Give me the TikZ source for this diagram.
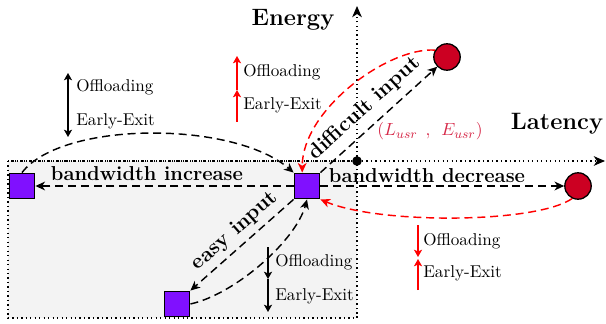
\documentclass[tikz,border=0pt]{standalone}
\usetikzlibrary{arrows.meta}
\definecolor{sqpurple}{RGB}{128,16,255}
\definecolor{circred}{RGB}{204,0,34}
\definecolor{lblred}{RGB}{214,40,72}
\definecolor{boxgray}{RGB}{243,243,243}
\begin{document}
\begin{tikzpicture}[x=0.625pt,y=-0.625pt,
  sq/.style={draw=black,line width=0.8pt,fill=sqpurple,minimum size=16pt,inner sep=0pt},
  pnt/.style={circle,draw=black,line width=0.8pt,fill=circred,minimum size=16.5pt,inner sep=0pt},
  conn/.style={dash pattern=on 5pt off 3pt,line width=0.9pt,-{Stealth[length=6pt,width=5.5pt,inset=1.8pt]}},
  rconn/.style={conn,red},
  axis/.style={dotted,line width=0.8pt,-{Stealth[length=7pt,width=6pt,inset=2pt]}},
  bw/.style={font=\bfseries\fontsize{12.6}{15}\selectfont},
  inp/.style={font=\bfseries\fontsize{13.2}{15}\selectfont},
  big/.style={font=\bfseries\fontsize{14.8}{17}\selectfont},
  lab/.style={font=\fontsize{10.7}{13}\selectfont,anchor=west,inner sep=0pt},
  varr/.style={line width=1.3pt,-{Stealth[length=4.5pt,width=5pt,inset=1pt]}}
]
\useasboundingbox (0,0) rectangle (606,324);

% gray region
\draw[dotted,line width=0.8pt,fill=boxgray] (8,161) rectangle (357,318);

% axes
\coordinate (xs) at (8,161);
\coordinate (xe) at (605,161);
\coordinate (ys) at (357,318);
\coordinate (ye) at (357,6);
\draw[axis] (xs) -- (xe);
\draw[axis] (ys) -- (ye);
\node[circle,fill=black,minimum size=6pt,inner sep=0pt] (O) at (357,161) {};

\node[big] (energy) at (293,20) {Energy};
\node[big] (latency) at (557,124) {Latency};
\node[font=\fontsize{11}{13}\selectfont,text=lblred] (usr) at (430,131) {$(L_{usr}\hspace{5pt},\hspace{5pt}E_{usr})$};

% nodes
\node[sq] (C) at (307,186) {};
\node[sq] (L) at (22,186) {};
\node[sq] (B) at (177,304) {};
\node[pnt] (T) at (447,57) {};
\node[pnt] (R) at (578,186) {};

% connectors
\draw[conn] (C.west) -- (L.east);
\node[bw] (bwi) at (147,174) {bandwidth increase};
\draw[conn] (C.east) -- (R.west);
\node[bw] (bwd) at (427,176) {bandwidth decrease};

\draw[conn] (L.north) .. controls +(40,-52) and +(-60,-52) .. (C.north west);
\draw[conn] (C.north east) -- node[sloped,above=1.5pt,pos=0.48,inp] {difficult input} (T.-135);
\draw[rconn] (T.150) .. controls +(-47,-3) and +(0,-63) .. ([xshift=-3pt]C.north);
\draw[rconn] (R.-115) .. controls +(-36,25) and +(59,25) .. (C.south east);
\draw[conn] (C.south west) -- node[sloped,above,pos=0.47,inp] {easy input} (B.north east);
\draw[conn] (B.east) .. controls +(45,-10) and +(-11,41) .. (C.south);

% black up/down (top left)
\coordinate (a1) at (68,105);
\coordinate (a2) at (68,73);
\coordinate (a3) at (68,137);
\draw[varr] (a1) -- (a2);
\draw[varr] (a1) -- (a3);
\node[lab] (o1) at (76,87) {Offloading};
\node[lab] (e1) at (76,121) {Early-Exit};

% red up/up
\coordinate (b1) at (237,122);
\coordinate (b2) at (237,90);
\coordinate (b3) at (237,56);
\draw[varr,red] (b1) -- (b2);
\draw[varr,red] (b2) -- (b3);
\node[lab] (o2) at (243,72) {Offloading};
\node[lab] (e2) at (243,105) {Early-Exit};

% black down/down
\coordinate (c1) at (268,247);
\coordinate (c2) at (268,279);
\coordinate (c3) at (268,312);
\draw[varr] (c1) -- (c2);
\draw[varr] (c2) -- (c3);
\node[lab] (o3) at (275,262) {Offloading};
\node[lab] (e3) at (275,296) {Early-Exit};

% red down/up
\coordinate (d1) at (418,225);
\coordinate (d2) at (418,257);
\coordinate (d3) at (418,290);
\coordinate (d4) at (418,259);
\draw[varr,red] (d1) -- (d2);
\draw[varr,red] (d3) -- (d4);
\node[lab] (o4) at (423,241) {Offloading};
\node[lab] (e4) at (423,273) {Early-Exit};
\end{tikzpicture}
\end{document}
